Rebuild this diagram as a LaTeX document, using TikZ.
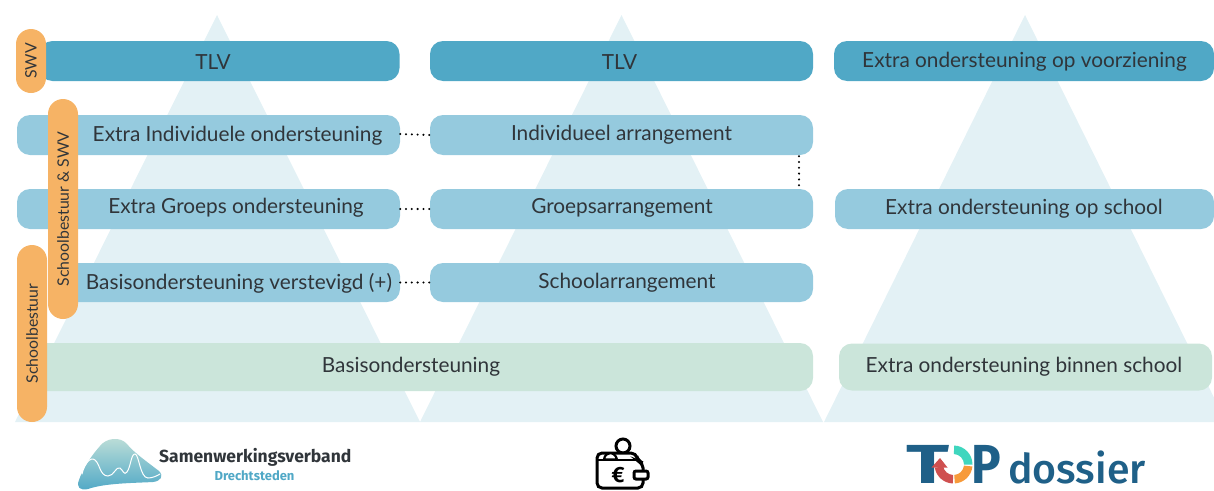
\documentclass[tikz,border=0pt]{standalone}
\usepackage{fontspec}
\setmainfont{Lato}
\newfontfamily\logofont{Fira Sans}
\usetikzlibrary{calc,shadings}
\definecolor{tri}{HTML}{E3F1F5}
\definecolor{darkbar}{HTML}{50A8C6}
\definecolor{midbar}{HTML}{95CADE}
\definecolor{greenbar}{HTML}{CBE5DA}
\definecolor{pill}{HTML}{F6B365}
\definecolor{ink}{HTML}{30353A}
\definecolor{topblue}{HTML}{1F6088}
\definecolor{toppurered}{HTML}{CF5050}
\definecolor{toporange}{HTML}{F79A3A}
\definecolor{topteal}{HTML}{3FD6BE}
\tikzset{
  x=1pt,y=-1pt,
  bar/.style={rounded corners=13pt,inner sep=0pt,text=ink,anchor=center},
  darkb/.style={bar,fill=darkbar},
  midb/.style={bar,fill=midbar},
  greenb/.style={bar,fill=greenbar},
  lab/.style={text=ink,font=\fontsize{20.8}{24}\selectfont,inner sep=0pt},
  pillb/.style={fill=pill,rounded corners=15pt,inner sep=0pt,text=ink,font=\fontsize{15.8}{18}\selectfont,rotate=90},
  triangle/.style={fill=tri},
  dots/.style={draw=black,line width=2.3pt,line cap=round,dash pattern=on 0pt off 5.8pt},
  walletline/.style={draw=black,line width=3pt,fill=white},
}
\begin{document}
\begin{tikzpicture}
\useasboundingbox (0,0) rectangle (1214,490);
% pyramids
\fill[triangle] (217,15) -- (420,422) -- (15,422) -- cycle;
\fill[triangle] (621.5,15) -- (823,422) -- (420,422) -- cycle;
\fill[triangle] (1025,15) -- (1214,397.6) -- (1214,422) -- (824,422) -- cycle;
% left column
\node[darkb,minimum width=360pt,minimum height=40pt] (t1) at (219.5,61) {};
\node[lab] at (213,62) {TLV};
\node[midb,minimum width=383pt,minimum height=40pt] (i1) at (208.5,135) {};
\node[lab] at (237.5,136) {Extra Individuele ondersteuning};
\node[midb,minimum width=383pt,minimum height=40pt] (g1) at (208.5,209) {};
\node[lab] at (236,208) {Extra Groeps ondersteuning};
\node[midb,minimum width=340pt,minimum height=39pt] (b1) at (230,282.5) {};
\node[lab] at (239,283) {Basisondersteuning verstevigd (+)};
% wide green
\node[greenb,minimum width=796pt,minimum height=48pt] (basis) at (415,367) {};
\node[lab] at (411,367) {Basisondersteuning};
% middle column
\node[darkb,minimum width=383pt,minimum height=40pt] (t2) at (621.5,61) {};
\node[lab] at (619.5,62) {TLV};
\node[midb,minimum width=383pt,minimum height=40pt] (i2) at (621.5,135) {};
\node[lab] at (621.5,135) {Individueel arrangement};
\node[midb,minimum width=383pt,minimum height=40pt] (g2) at (621.5,209) {};
\node[lab] at (622,208) {Groepsarrangement};
\node[midb,minimum width=383pt,minimum height=39pt] (s2) at (621.5,282.5) {};
\node[lab] at (627,283) {Schoolarrangement};
% right column
\node[darkb,minimum width=380pt,minimum height=40pt] (t3) at (1024,61) {};
\node[lab] at (1024.5,62) {Extra ondersteuning op voorziening};
\node[midb,minimum width=379pt,minimum height=40pt] (g3) at (1024.5,209) {};
\node[lab] at (1024,209) {Extra ondersteuning op school};
\node[greenb,minimum width=373pt,minimum height=47pt] (b3) at (1025.5,367) {};
\node[lab] at (1024,367) {Extra ondersteuning binnen school};
% pills
\node[pillb,minimum width=64pt,minimum height=30pt] (swv) at (31,61) {SWV};
\node[pillb,minimum width=220pt,minimum height=30pt] (sbswv) at (63,209) {Schoolbestuur \& SWV};
\node[pillb,minimum width=177pt,minimum height=30pt] (sb) at (32,333.5) {Schoolbestuur};
% dotted connectors
\draw[dots] (i1.east) ++(0,-1) -- (i1.east -| i2.west);
\draw[dots] (g1.east) -- (g2.west);
\draw[dots] (b1.east) -- (s2.west);
\coordinate (vx) at (799,0);
\draw[dots] (vx |- i2.south) ++(0,1) -- (vx |- g2.north);
% SWV logo
\shade[top color=greenbar!90!darkbar,bottom color=darkbar]
  (79,480) .. controls (83,468) and (92,455) .. (100,446)
  .. controls (106,438) and (120,436) .. (127,444)
  .. controls (133,452) and (150,464) .. (159,471)
  .. controls (164,476) and (161,481) .. (153,482)
  .. controls (135,483) and (105,483) .. (88,489)
  .. controls (80,491) and (76,487) .. (79,480) -- cycle;
\draw[white,line width=1pt,line cap=round]
  (82,474) .. controls (84,465) and (90,456) .. (95,460)
  .. controls (100,464) and (100,476) .. (108,476)
  .. controls (114,476) and (116,466) .. (120,468)
  .. controls (123,470) and (124,476) .. (127,472)
  .. controls (131,466) and (131,454) .. (135,454)
  .. controls (139,454) and (140,478) .. (148,478)
  .. controls (152,478) and (157,476) .. (160,474);
\node[inner sep=0pt,anchor=west,text=ink,font=\logofont\bfseries\fontsize{17.5}{20}\selectfont] (sw) at (159,457) {Samenwerkingsverband};
\node[inner sep=0pt,text=darkbar,font=\logofont\bfseries\fontsize{13}{15}\selectfont] (dr) at (254.5,476) {Drechtsteden};
% wallet icon
\draw[walletline] (623,446) circle (7);
\draw[walletline,rounded corners=5pt] (597,488) -- (597,453) -- (636,453) -- (638,461) -- (643,463) -- (643,488) -- cycle;
\draw[walletline,line width=2.2pt] (604,459.5) .. controls (605,451) and (615,451) .. (617,459.5) -- cycle;
\draw[black,line width=2.6pt] (598,460) -- (637,460);
\draw[walletline,rounded corners=2pt] (634,471) rectangle (648,479);
\node[inner sep=0pt,font=\logofont\bfseries\fontsize{22}{22}\selectfont,text=black] (euro) at (618,475) {€};
% TOP dossier logo
\node[inner sep=0pt,anchor=base west,text=topblue,font=\logofont\bfseries\fontsize{55}{55}\selectfont] (topt) at (906,483.5) {\scalebox{1.45}[1]{T}};
\begin{scope}[shift={(953.5,464.5)},y=1pt]
  \fill[topteal] (88:19pt) arc (88:0:19pt) -- (0:10.5pt) arc (0:88:10.5pt) -- cycle;
  \fill[toporange] (-6:19pt) arc (-6:-86:19pt) -- (-86:10.5pt) arc (-86:-6:10.5pt) -- cycle;
  \fill[toppurered] (-92:19pt) arc (-92:-170:19pt) -- (-170:10.5pt) arc (-170:-92:10.5pt) -- cycle;
  \fill[toppurered] (-22pt,-3pt) -- (-13.5pt,6.5pt) -- (-6pt,-3pt) -- cycle;
\end{scope}
\node[inner sep=0pt,anchor=base west,text=topblue,font=\logofont\bfseries\fontsize{55}{55}\selectfont] (topp) at (971,483.5) {\scalebox{0.9}[1]{P}};
\node[inner sep=0pt,anchor=base west,text=topblue,font=\logofont\fontsize{41}{41}\selectfont\fontspec{Fira Sans Medium}] (dos) at (1008,483.5) {dossier};
\end{tikzpicture}
\end{document}
